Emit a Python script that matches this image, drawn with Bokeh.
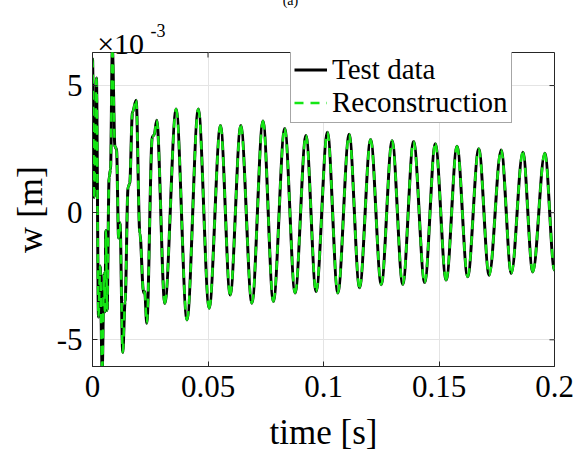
import math
import numpy as np
from bokeh.plotting import figure
from bokeh.models import (ColumnDataSource, Range1d, FixedTicker,
                          Label, Legend, LegendItem)
from bokeh.embed import file_html
from bokeh.resources import INLINE

# Turning points of the measured deflection (time in s, w in 1e-3 m)
t_test = [0.0000, 0.0007, 0.0017, 0.0026, 0.0033, 0.0042, 0.0050, 0.0054,
          0.0058, 0.0063, 0.0072, 0.0078, 0.0086, 0.0097, 0.0104, 0.0113,
          0.0119, 0.0131, 0.0141, 0.0154, 0.0161, 0.0173, 0.0189, 0.0205,
          0.0221, 0.0226, 0.0235, 0.0259, 0.0267, 0.0278, 0.0313, 0.0362,
          0.0409, 0.0458, 0.0505, 0.0554, 0.0596, 0.0642, 0.0690, 0.0738,
          0.0783, 0.0832, 0.0877, 0.0924, 0.0968, 0.1017, 0.1062, 0.1111,
          0.1156, 0.1204, 0.1250, 0.1297, 0.1343, 0.1390, 0.1438, 0.1484,
          0.1531, 0.1578, 0.1624, 0.1672, 0.1717, 0.1769, 0.1813, 0.1863,
          0.1906, 0.1958, 0.2000]
w_test = [6.05, 0.60, 5.30, -4.10, -2.10, -6.20, -2.40, -3.90,
          -0.70, -3.85, 1.40, 1.70, 6.45, 2.60, 2.50, -1.00,
          -0.40, -5.50, -3.50, 1.00, 1.15, 3.95, 4.42, -0.80,
          -3.15, -3.10, -4.35, 3.00, 3.05, 3.64, -3.57, 4.08,
          -4.22, 4.08, -3.76, 3.43, -3.24, 3.43, -3.56, 3.61,
          -3.49, 3.31, -3.16, 3.04, -3.10, 3.16, -3.16, 3.08,
          -2.95, 2.88, -2.83, 2.83, -2.82, 2.80, -2.75, 2.71,
          -2.65, 2.61, -2.52, 2.51, -2.46, 2.47, -2.39, 2.38,
          -2.33, 2.34, -2.26]

# Reconstruction (visually identical to the test data)
t_rec = list(t_test)
w_rec = list(w_test)

x_ticks = [0, 0.05, 0.1, 0.15, 0.2]
x_tick_labels = ["0", "0.05", "0.1", "0.15", "0.2"]
y_ticks = [-5, 0, 5]
y_tick_labels = ["-5", "0", "5"]
x_lim = (0, 0.2)
y_lim = (-6.05, 6.3)

FONT = "Liberation Serif"
AX = "#262626"
GREEN = "#14e614"

p = figure(width=586, height=454, output_backend="svg", toolbar_location=None,
           x_range=Range1d(*x_lim), y_range=Range1d(*y_lim),
           min_border_left=92, min_border_right=32, min_border_top=52,
           min_border_bottom=87)
p.background_fill_color = "white"
p.border_fill_color = "white"
p.outline_line_color = AX
p.outline_line_width = 1


def segments(t, w):
    t = np.asarray(t, dtype=float)
    w = np.asarray(w, dtype=float)
    dt = np.diff(t)
    return ColumnDataSource(dict(
        x0=t[:-1], y0=w[:-1], x1=t[1:], y1=w[1:],
        cx0=t[:-1] + dt / 3.0, cy0=w[:-1],
        cx1=t[1:] - dt / 3.0, cy1=w[1:]))


bz = dict(x0="x0", y0="y0", x1="x1", y1="y1",
          cx0="cx0", cy0="cy0", cx1="cx1", cy1="cy1")
p.bezier(source=segments(t_test, w_test), line_color="black",
         line_width=3, **bz)
p.bezier(source=segments(t_rec, w_rec), line_color=GREEN,
         line_width=2.5, line_dash="9 7", **bz)

# grid
p.xgrid.ticker = FixedTicker(ticks=x_ticks)
p.ygrid.ticker = FixedTicker(ticks=y_ticks)
p.grid.grid_line_color = "#e4e4e4"
p.grid.grid_line_width = 1

xa = p.xaxis[0]
ya = p.yaxis[0]
for ax in (xa, ya):
    ax.major_tick_in = 5
    ax.major_tick_out = 0
    ax.minor_tick_line_color = None
    ax.axis_line_color = AX
    ax.major_tick_line_color = AX
    ax.major_label_text_font = FONT
    ax.major_label_text_font_size = "31px"
    ax.major_label_text_color = "black"
    ax.axis_label_text_font = FONT
    ax.axis_label_text_font_style = "normal"
    ax.axis_label_text_color = "black"

xa.ticker = FixedTicker(ticks=x_ticks)
xa.major_label_overrides = dict(zip(x_ticks, x_tick_labels))
xa.major_label_standoff = 9
xa.axis_label = "time [s]"
xa.axis_label_text_font_size = "35px"
xa.axis_label_standoff = 13

ya.ticker = FixedTicker(ticks=y_ticks)
ya.major_label_overrides = dict(zip(y_ticks, y_tick_labels))
ya.major_label_standoff = 10
ya.axis_label = "w [m]"
ya.axis_label_text_font_size = "36px"
ya.axis_label_standoff = 4

# inward ticks on the top and right edges of the box
p.ray(x=x_ticks, y=[y_lim[1]] * len(x_ticks), length=5,
      length_units="screen", angle=-math.pi / 2, line_color=AX, line_width=1)
p.ray(x=[x_lim[1]] * len(y_ticks), y=y_ticks, length=5,
      length_units="screen", angle=math.pi, line_color=AX, line_width=1)

# legend, kept inside the box
l1 = p.line(x=[float("nan")], y=[float("nan")], line_color="black",
            line_width=3)
l2 = p.line(x=[float("nan")], y=[float("nan")], line_color=GREEN,
            line_width=2.5, line_dash="9 7")
legend = Legend(items=[LegendItem(label="Test data", renderers=[l1]),
                       LegendItem(label="Reconstruction", renderers=[l2])],
                location=(198, 243), label_text_font=FONT,
                label_text_font_size="29px", label_text_color="black",
                glyph_width=33, glyph_height=31, label_height=31,
                label_standoff=5, padding=3, spacing=0, margin=0,
                border_line_color="#4d4d4d", border_line_width=1,
                background_fill_color="white", background_fill_alpha=1.0)
p.add_layout(legend)

# exponent of the y axis
p.add_layout(Label(x=0.0251, y=7.16, text="-3", text_font=FONT,
                   text_font_size="18px", text_align="left",
                   text_baseline="alphabetic", text_color="black"), "right")
p.add_layout(Label(x=0.00203, y=6.64, text="×10", text_font=FONT,
                   text_font_size="30px", text_align="left",
                   text_baseline="alphabetic", text_color="black"), "above")
# panel tag (mostly cut off at the top)
p.add_layout(Label(x=0.0857, y=8.36, text="(a)", text_font=FONT,
                   text_font_size="14px", text_align="center",
                   text_baseline="alphabetic", text_color="black"), "above")

open("out.html", "w").write(file_html(p, INLINE))
